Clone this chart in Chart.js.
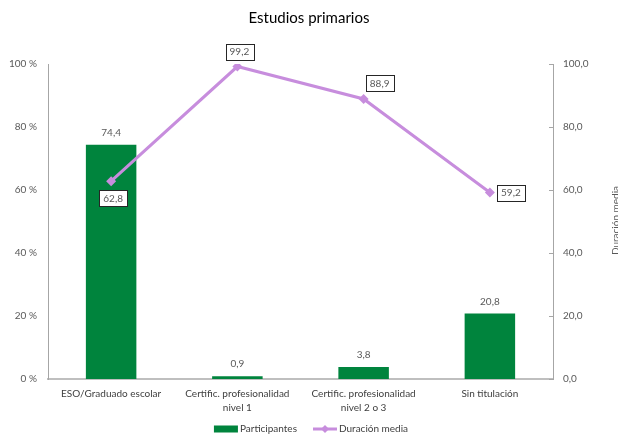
<!DOCTYPE html>
<html><head><meta charset="utf-8">
<script src="https://cdn.jsdelivr.net/npm/chart.js@4.4.0/dist/chart.umd.min.js"></script>
<style>html,body{margin:0;padding:0;background:#fff;overflow:hidden}#wrap{width:618px;height:439px;position:relative}</style>
</head><body><div id="wrap"><canvas id="c" width="618" height="439"></canvas></div>
<script>
// ---- data ----
const categories = [["ESO/Graduado escolar"], ["Certific. profesionalidad", "nivel 1"], ["Certific. profesionalidad", "nivel 2 o 3"], ["Sin titulación"]];
const participantes = [74.4, 0.9, 3.8, 20.8];
const duracionMedia = [62.8, 99.2, 88.9, 59.2];
const leftTickValues = [0, 20, 40, 60, 80, 100];
const rightTickValues = [0, 20, 40, 60, 80, 100];
const seriesNames = ["Participantes", "Duración media"];
const chartTitle = "Estudios primarios";
const rightAxisTitle = "Duración media";

// ---- style ----
const FONT = "Lato, 'Open Sans', sans-serif";
const GREEN = "#00843d";
const LILAC = "#c78ddd";
const lineLabelOffsets = [[2, 17], [2, -15], [16, -16], [21, 0]];
const fmt = v => v.toFixed(1).replace('.', ',');

const labelPlugin = {
  id: 'labels',
  afterDatasetsDraw(chart) {
    const ctx = chart.ctx;
    ctx.save();
    ctx.font = "10px " + FONT;
    ctx.textAlign = 'center';
    ctx.textBaseline = 'middle';
    // bar labels
    const barMeta = chart.getDatasetMeta(0);
    barMeta.data.forEach((el, i) => {
      ctx.fillStyle = '#595959';
      ctx.fillText(fmt(participantes[i]), el.x, el.y - 12);
    });
    // line labels boxed
    const lineMeta = chart.getDatasetMeta(1);
    lineMeta.data.forEach((el, i) => {
      const t = fmt(duracionMedia[i]);
      const cx = el.x + lineLabelOffsets[i][0];
      const cy = el.y + lineLabelOffsets[i][1];
      const w = ctx.measureText(t).width + 8;
      const h = 16;
      ctx.fillStyle = '#fff';
      ctx.fillRect(Math.round(cx - w / 2) + 0.5, Math.round(cy - h / 2) + 0.5, Math.round(w), h);
      ctx.strokeStyle = '#262626';
      ctx.lineWidth = 1;
      ctx.strokeRect(Math.round(cx - w / 2) + 0.5, Math.round(cy - h / 2) + 0.5, Math.round(w), h);
      ctx.fillStyle = '#595959';
      ctx.fillText(t, cx, cy + 0.5);
    });
    ctx.restore();
  },
  afterDraw(chart) {
    const ctx = chart.ctx;
    const ca = chart.chartArea;
    ctx.save();
    // inward ticks on right axis
    const y1 = chart.scales.y1;
    ctx.strokeStyle = '#a6a6a6';
    ctx.lineWidth = 1;
    y1.ticks.forEach(t => {
      const py = Math.round(y1.getPixelForValue(t.value)) + 0.5;
      ctx.beginPath(); ctx.moveTo(ca.right - 4, py); ctx.lineTo(ca.right, py); ctx.stroke();
    });
    // right axis title (rotated, reading bottom to top)
    ctx.fillStyle = '#595959';
    ctx.font = "10px " + FONT;
    ctx.translate(619, (ca.top + ca.bottom) / 2 - 1);
    ctx.rotate(-Math.PI / 2);
    ctx.textAlign = 'center';
    ctx.textBaseline = 'alphabetic';
    ctx.fillText(rightAxisTitle, 0, 0);
    ctx.restore();

    // legend
    ctx.save();
    ctx.font = "10px " + FONT;
    ctx.textBaseline = 'middle';
    ctx.textAlign = 'left';
    const symW = 24, gap = 2, spacing = 16;
    const widths = seriesNames.map(n => symW + gap + ctx.measureText(n).width);
    const total = widths[0] + spacing + widths[1];
    let x = 311 - total / 2;
    const ly = 429;
    // bar symbol
    ctx.fillStyle = chart.data.datasets[0].backgroundColor;
    ctx.fillRect(x, ly - 3.5, symW, 7);
    ctx.fillStyle = '#404040';
    ctx.fillText(seriesNames[0], x + symW + gap, ly);
    x += widths[0] + spacing;
    // line symbol
    ctx.strokeStyle = chart.data.datasets[1].borderColor;
    ctx.lineWidth = 3;
    ctx.beginPath(); ctx.moveTo(x, ly); ctx.lineTo(x + symW, ly); ctx.stroke();
    ctx.fillStyle = chart.data.datasets[1].borderColor;
    ctx.beginPath();
    const mx = x + symW / 2;
    ctx.moveTo(mx, ly - 4); ctx.lineTo(mx + 4, ly); ctx.lineTo(mx, ly + 4); ctx.lineTo(mx - 4, ly); ctx.closePath(); ctx.fill();
    ctx.fillStyle = '#404040';
    ctx.fillText(seriesNames[1], x + symW + gap, ly);
    ctx.restore();
  }
};

new Chart(document.getElementById('c'), {
  type: 'bar',
  data: {
    labels: categories,
    datasets: [
      {
        type: 'bar', label: seriesNames[0], data: participantes, yAxisID: 'y',
        backgroundColor: GREEN, borderWidth: 0,
        barPercentage: 0.4, categoryPercentage: 1.0, order: 2
      },
      {
        type: 'line', label: seriesNames[1], data: duracionMedia, yAxisID: 'y1',
        borderColor: LILAC, backgroundColor: LILAC, borderWidth: 3,
        pointStyle: 'rectRot', pointRadius: 5, pointHoverRadius: 5,
        pointBackgroundColor: LILAC, pointBorderWidth: 0, tension: 0, order: 1
      }
    ]
  },
  options: {
    responsive: false,
    animation: false,
    devicePixelRatio: 1,
    layout: { padding: { left: 0, right: 0, top: 0, bottom: 24 } },
    plugins: {
      legend: { display: false },
      tooltip: { enabled: false },
      title: {
        display: true, text: chartTitle, color: '#000',
        font: { family: FONT, size: 15, weight: 'normal' },
        padding: { top: 9, bottom: 37 }
      }
    },
    scales: {
      x: {
        grid: { display: false, drawTicks: false },
        border: { display: true, color: '#bfbfbf', width: 2 },
        ticks: { color: '#404040', font: { family: FONT, size: 10, lineHeight: 1.4 }, padding: 8, maxRotation: 0, autoSkip: false },
        afterFit(s) { s.height = 36; }
      },
      y: {
        position: 'left', min: 0, max: 100,
        afterBuildTicks(s) { s.ticks = leftTickValues.map(v => ({ value: v })); },
        grid: { display: false, drawTicks: false },
        border: { display: true, color: '#a6a6a6', width: 1 },
        ticks: { color: '#595959', font: { family: FONT, size: 10 }, padding: 11, callback: v => v + ' %' },
        afterFit(s) { s.width = 48; }
      },
      y1: {
        position: 'right', min: 0, max: 100,
        afterBuildTicks(s) { s.ticks = rightTickValues.map(v => ({ value: v })); },
        grid: { display: false, drawTicks: false, drawOnChartArea: false },
        border: { display: true, color: '#a6a6a6', width: 1 },
        ticks: { color: '#595959', font: { family: FONT, size: 10 }, padding: 10, callback: v => fmt(v) },
        afterFit(s) { s.width = 65; }
      }
    }
  },
  plugins: [labelPlugin]
});
</script>
</body></html>
